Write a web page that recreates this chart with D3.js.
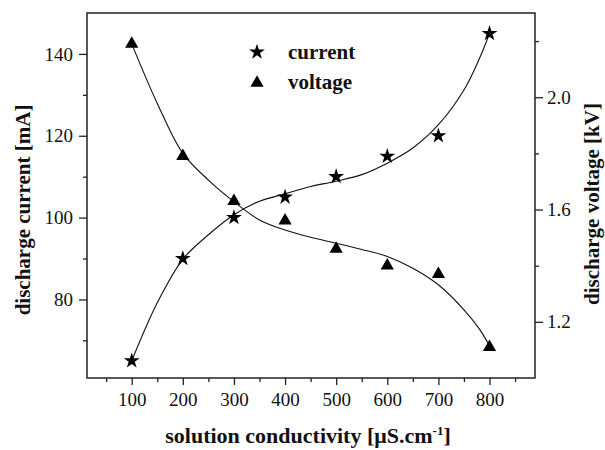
<!DOCTYPE html>
<html>
<head>
<meta charset="utf-8">
<script src="https://cdn.jsdelivr.net/npm/d3@7/dist/d3.min.js"></script>
<style>
  html, body { margin: 0; padding: 0; background: #fff; }
  svg { display: block; }
</style>
</head>
<body>
<svg id="chart" width="605" height="450"></svg>
<script>
// Measured points
const conductivity = [100, 200, 300, 400, 500, 600, 700, 800];
const currentMA = [65, 90, 100, 105, 110, 115, 120, 145];
const voltageKV = [2.19, 1.79, 1.63, 1.56, 1.46, 1.40, 1.37, 1.11];

// Smoothed trend curves
const fitX = [100, 150, 200, 250, 300, 350, 400, 450, 500, 550, 600, 650, 700, 750, 780, 800];
const fitCurrent = [65, 79.2, 89.8, 95.8, 100.7, 104, 105.8, 107.6, 108.9, 110.5, 113.3, 117, 122.7, 131.2, 138.8, 145];
const fitVoltage = [2.19, 1.978, 1.80, 1.705, 1.628, 1.563, 1.527, 1.501, 1.48, 1.458, 1.433, 1.391, 1.332, 1.243, 1.175, 1.115];

// Axis ticks
const xMajor = [100, 200, 300, 400, 500, 600, 700, 800];
const xMinor = [50, 150, 250, 350, 450, 550, 650, 750, 850];
const yLeftMajor = [80, 100, 120, 140];
const yLeftMinor = [70, 90, 110, 130];
const yRightMajor = [1.2, 1.6, 2.0];
const yRightMinor = [1.4, 1.8, 2.2];

const FONT = '"Liberation Serif", "Times New Roman", serif';
const svg = d3.select("#chart");
const L = 87, R = 535, T = 13, B = 378;

const x = d3.scaleLinear().domain([12.5, 889]).range([L, R]);
const yL = d3.scaleLinear().domain([60.8, 150]).range([B, T]);
const yR = d3.scaleLinear().domain([1.0, 2.3]).range([B, T]);

const axisColor = "#222";

// Bottom axis
const gx = svg.append("g").attr("transform", `translate(0,${B})`);
gx.call(d3.axisBottom(x).tickValues(xMinor).tickSize(4).tickFormat(""));
gx.append("g").call(d3.axisBottom(x).tickValues(xMajor).tickSize(7).tickPadding(8).tickFormat(d3.format("d")));
// Left axis
const gl = svg.append("g").attr("transform", `translate(${L},0)`);
gl.call(d3.axisLeft(yL).tickValues(yLeftMinor).tickSize(4).tickFormat(""));
gl.append("g").call(d3.axisLeft(yL).tickValues(yLeftMajor).tickSize(8).tickPadding(6).tickFormat(d3.format("d")));
// Right axis
const gr = svg.append("g").attr("transform", `translate(${R},0)`);
gr.call(d3.axisRight(yR).tickValues(yRightMinor).tickSize(4).tickFormat(""));
gr.append("g").call(d3.axisRight(yR).tickValues(yRightMajor).tickSize(8).tickPadding(4).tickFormat(d3.format(".1f")));

svg.selectAll("g").attr("font-family", null).attr("font-size", null);
svg.selectAll(".domain").remove();
svg.selectAll(".tick line").attr("stroke", axisColor).attr("stroke-width", 1.3);
svg.selectAll(".tick text")
  .style("font-family", FONT)
  .style("font-size", "19px")
  .attr("fill", "#111");

// Frame
svg.append("rect")
  .attr("x", L).attr("y", T)
  .attr("width", R - L).attr("height", B - T)
  .attr("fill", "none").attr("stroke", axisColor).attr("stroke-width", 1.5);

// Trend curves
const curveCurrent = d3.line().x((d, i) => x(fitX[i])).y(d => yL(d)).curve(d3.curveCatmullRom.alpha(0.5));
const curveVoltage = d3.line().x((d, i) => x(fitX[i])).y(d => yR(d)).curve(d3.curveCatmullRom.alpha(0.5));
svg.append("path").attr("d", curveCurrent(fitCurrent))
  .attr("fill", "none").attr("stroke", "#111").attr("stroke-width", 1.1);
svg.append("path").attr("d", curveVoltage(fitVoltage))
  .attr("fill", "none").attr("stroke", "#111").attr("stroke-width", 1.1);

// Markers
const star = d3.symbol().type(d3.symbolStar).size(78);
const tri = d3.symbol().type(d3.symbolTriangle).size(76);
svg.append("g").selectAll("path").data(currentMA).join("path")
  .attr("d", star)
  .attr("transform", (d, i) => `translate(${x(conductivity[i])},${yL(d)})`)
  .attr("fill", "#000");
svg.append("g").selectAll("path").data(voltageKV).join("path")
  .attr("d", tri)
  .attr("transform", (d, i) => `translate(${x(conductivity[i])},${yR(d)})`)
  .attr("fill", "#000");

// Legend
const legend = svg.append("g");
legend.append("path").attr("d", star).attr("transform", "translate(257,52)").attr("fill", "#000");
legend.append("path").attr("d", tri).attr("transform", "translate(257,83)").attr("fill", "#000");
legend.append("text").attr("x", 288).attr("y", 59)
  .style("font-family", FONT).style("font-size", "21px").style("font-weight", "bold").attr("fill", "#111")
  .text("current");
legend.append("text").attr("x", 288).attr("y", 89)
  .style("font-family", FONT).style("font-size", "21px").style("font-weight", "bold").attr("fill", "#111")
  .text("voltage");

// Axis titles
const xt = svg.append("text")
  .attr("x", 308).attr("y", 443)
  .attr("text-anchor", "middle").attr("fill", "#111")
  .style("font-family", FONT).style("font-size", "22px").style("font-weight", "bold");
xt.append("tspan").text("solution conductivity [μS.cm");
xt.append("tspan").attr("dy", -8).style("font-size", "13px").text("-1");
xt.append("tspan").attr("dy", 8).text("]");

svg.append("text")
  .attr("transform", "translate(30,210) rotate(-90)")
  .attr("text-anchor", "middle").attr("fill", "#111")
  .style("font-family", FONT).style("font-size", "21px").style("font-weight", "bold")
  .text("discharge current [mA]");

svg.append("text")
  .attr("transform", "translate(599,204) rotate(-90)")
  .attr("text-anchor", "middle").attr("fill", "#111")
  .style("font-family", FONT).style("font-size", "21px").style("font-weight", "bold")
  .text("discharge voltage [kV]");
</script>
</body>
</html>
